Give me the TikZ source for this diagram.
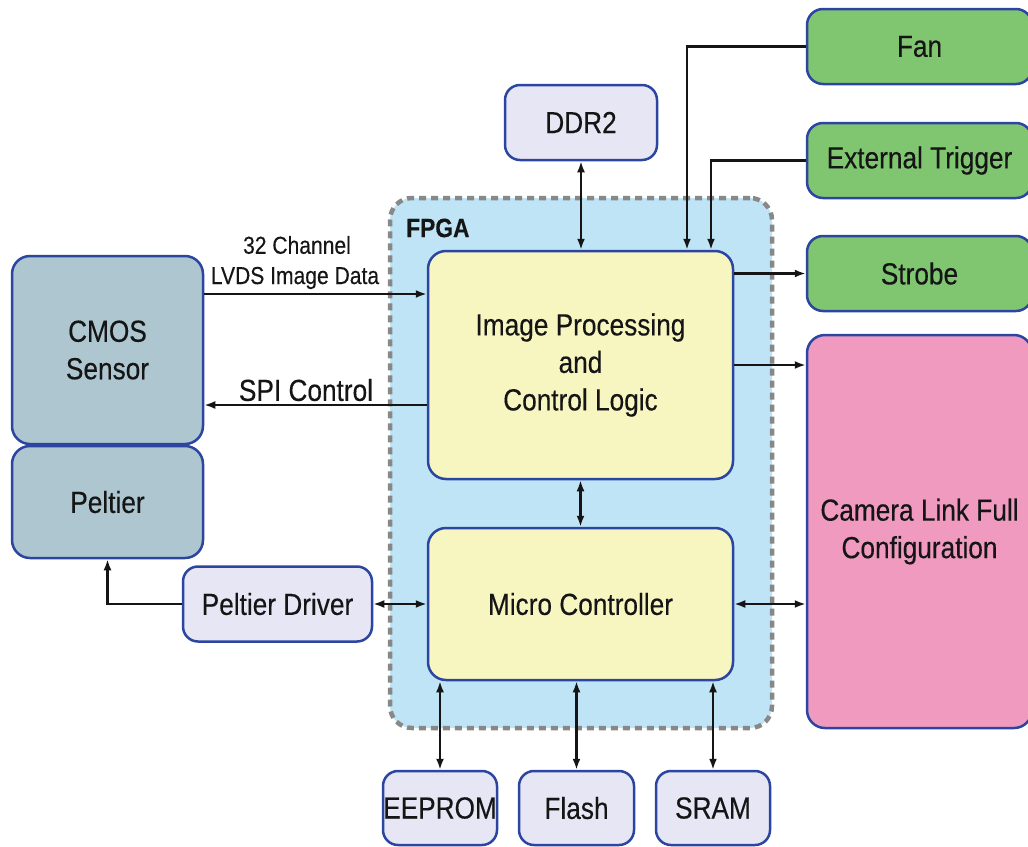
\documentclass[tikz,border=0pt]{standalone}
\usepackage{fontspec}
\setmainfont[FakeStretch=0.86,FakeBold=0.3]{Liberation Sans}
\usetikzlibrary{arrows.meta}
\definecolor{bblue}{HTML}{2B45A0}
\definecolor{cmosfill}{HTML}{ADC6D0}
\definecolor{lavfill}{HTML}{E6E6F4}
\definecolor{fpgafill}{HTML}{BEE4F5}
\definecolor{dashgray}{HTML}{888888}
\definecolor{yelfill}{HTML}{F8F6C0}
\definecolor{grnfill}{HTML}{80C670}
\definecolor{pinkfill}{HTML}{F09AC0}
\definecolor{txt}{HTML}{151515}
\begin{document}
\begin{tikzpicture}[x=1pt,y=-1pt,
  blk/.style={draw=bblue, line width=2.5pt, rounded corners=18pt, inner sep=0pt,
    align=center, text=txt, font=\fontsize{30.5}{37.5}\selectfont},
  lbl/.style={inner sep=0pt, text=txt, font=\fontsize{24.5}{28}\selectfont},
  arr/.style={line width=2.5pt, draw=txt, -{Latex[length=11pt,width=8pt]}},
  arrb/.style={line width=2.5pt, draw=txt, {Latex[length=11pt,width=8pt]}-{Latex[length=11pt,width=8pt]}}]
\useasboundingbox (0,0) rectangle (1028,846);
\clip (0,0) rectangle (1028,846);
% FPGA region
\node[draw=dashgray, fill=fpgafill, line width=4.5pt, dash pattern=on 7pt off 5pt,
  rounded corners=22pt, minimum width=382pt, minimum height=530pt, inner sep=0pt] (fpga) at (581,463) {};
\node[anchor=west, inner sep=0pt, text=txt, font=\fontsize{26.5}{30}\selectfont\bfseries] (fpgalbl) at (406,228) {FPGA};
% blocks
\node[blk, fill=cmosfill, minimum width=191pt, minimum height=188pt] (cmos) at (107.5,350) {CMOS\\Sensor};
\node[blk, fill=cmosfill, minimum width=191pt, minimum height=112pt] (peltier) at (107.5,502) {Peltier};
\node[blk, fill=lavfill, minimum width=189pt, minimum height=75pt, rounded corners=15pt] (pdrv) at (277.5,604) {Peltier Driver};
\node[blk, fill=yelfill, minimum width=305pt, minimum height=228pt] (ip) at (580.5,365) {Image Processing\\and\\Control Logic};
\node[blk, fill=yelfill, minimum width=305pt, minimum height=152pt] (mc) at (580.5,604) {Micro Controller};
\node[blk, fill=lavfill, minimum width=152pt, minimum height=75pt, rounded corners=15pt] (ddr) at (581,122.5) {DDR2};
\node[blk, fill=grnfill, minimum width=225pt, minimum height=75pt, rounded corners=16pt] (fan) at (919.5,46.5) {Fan};
\node[blk, fill=grnfill, minimum width=225pt, minimum height=75pt, rounded corners=16pt] (ext) at (919.5,160.5) {External Trigger};
\node[blk, fill=grnfill, minimum width=225pt, minimum height=75pt, rounded corners=16pt] (strobe) at (919.5,273.5) {Strobe};
\node[blk, fill=pinkfill, minimum width=225pt, minimum height=393pt] (cam) at (919.5,531.5) {Camera Link Full\\Configuration};
\node[blk, fill=lavfill, minimum width=114pt, minimum height=74pt, rounded corners=15pt] (eeprom) at (440,808) {EEPROM};
\node[blk, fill=lavfill, minimum width=115pt, minimum height=74pt, rounded corners=15pt] (flash) at (576.5,808) {Flash};
\node[blk, fill=lavfill, minimum width=114pt, minimum height=74pt, rounded corners=15pt] (sram) at (713,808) {SRAM};
% labels
\node[lbl] (l32) at (297,245) {32 Channel};
\node[lbl] (llvds) at (295,278) {LVDS Image Data};
\node[inner sep=0pt, text=txt, font=\fontsize{30.5}{34}\selectfont] (lspi) at (306,390) {SPI Control};
% connectors
\draw[arr] (cmos.east |- 0,294) -- (ip.west |- 0,294);
\draw[arr] (ip.west |- 0,405) -- (cmos.east |- 0,405);
\draw[arrb] (pdrv.east) -- (mc.west |- pdrv.east);
\draw[arr] (pdrv.west) -| (peltier.south);
\draw[arrb] (ddr.south) -- (ddr.south |- ip.north);
\draw[arr] (fan.west) -| (ip.north -| 687,0);
\draw[arr] (ext.west) -| (ip.north -| 711,0);
\draw[arr] (ip.east |- strobe.west) -- (strobe.west);
\draw[arr] (ip.east |- 0,365) -- (cam.west |- 0,365);
\draw[arrb] (ip.south) -- (mc.north);
\draw[arrb] (mc.east) -- (cam.west |- mc.east);
\draw[arrb] (mc.south -| eeprom.north) -- (eeprom.north);
\draw[arrb] (mc.south -| flash.north) -- (flash.north);
\draw[arrb] (mc.south -| sram.north) -- (sram.north);
\end{tikzpicture}
\end{document}
